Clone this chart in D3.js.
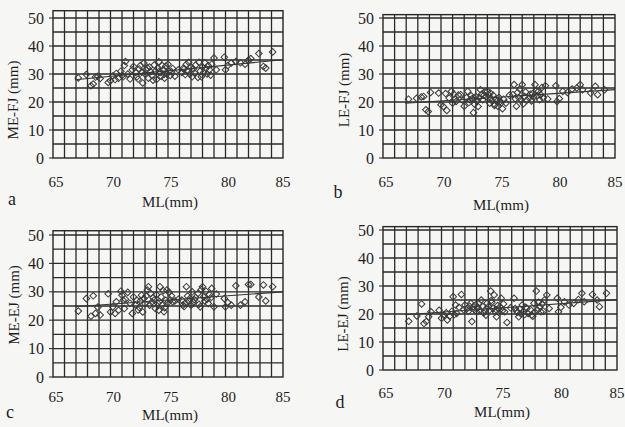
<!DOCTYPE html>
<html>
<head>
    <meta charset="utf-8">
    <script type="text/javascript" src="https://cdn.jsdelivr.net/npm/d3@7"></script>
    <title>ML scatter plots</title>
    <style>
        body { margin: 0; background: #f6f6f4; }
        svg text { font-family: "Liberation Serif", "Times New Roman", serif; fill: #1e1e1e; }
        .grid line { stroke: #2a2a2a; stroke-width: 1.3; }
        .frame { fill: none; stroke: #262626; stroke-width: 1.4; }
        .pt { fill: none; stroke: #3a3a3a; stroke-width: 1; }
        .fit { stroke: #333; stroke-width: 1.1; }
    </style>
</head>
<body>
<script type="text/javascript">
    // ML (mm), shared by the four panels
    var ml = [67.2, 67.9, 68.3, 68.5, 68.7, 68.9, 69.1, 69.8, 70.0, 70.2,
              70.4, 70.5, 70.7, 70.9, 71.0, 71.2, 71.3, 71.5, 71.7, 71.9,
              72.0, 72.2, 72.3, 72.5, 72.6, 72.8, 72.9, 73.0, 73.1, 73.3,
              73.4, 73.5, 73.6, 73.8, 73.9, 74.0, 74.1, 74.2, 74.3, 74.4,
              74.5, 74.6, 74.7, 74.8, 74.9, 75.0, 75.1, 75.2, 75.4, 75.6,
              75.9, 76.2, 76.3, 76.5, 76.6, 76.7, 76.8, 76.9, 77.0, 77.1,
              77.2, 77.4, 77.6, 77.7, 77.8, 77.9, 78.0, 78.1, 78.2, 78.3,
              78.4, 78.5, 78.6, 78.8, 79.0, 79.2, 79.9, 80.0, 80.2, 80.5,
              80.9, 81.3, 81.7, 82.0, 82.2, 82.9, 83.3, 83.5, 84.1,
              71.1, 72.4, 73.2, 73.7, 74.25, 74.65, 75.3, 76.4, 77.3, 78.7, 72.7];

    var meFJ = [28.6, 29.8, 25.8, 26.4, 28.9, 29.2, 28.4, 27.0, 27.6, 29.3,
                28.0, 30.2, 28.5, 31.0, 29.5, 33.0, 34.5, 30.0, 28.2, 31.5,
                32.7, 30.5, 29.0, 31.8, 33.0, 26.8, 33.9, 30.0, 31.5, 28.5,
                32.5, 30.8, 29.5, 33.2, 31.0, 28.0, 32.0, 34.4, 30.5, 29.2,
                33.0, 31.5, 28.5, 32.8, 30.0, 33.5, 31.0, 29.5, 32.0, 29.2,
                31.5, 30.5, 32.0, 29.8, 33.5, 31.0, 34.2, 30.0, 32.5, 29.0,
                31.8, 33.2, 28.8, 34.2, 31.0, 29.0, 32.5, 30.5, 34.0, 32.0,
                30.0, 33.0, 31.5, 33.5, 35.7, 31.5, 36.0, 31.5, 33.0, 33.9,
                34.5, 34.0, 33.5, 35.0, 35.5, 37.3, 32.7, 32.1, 37.9,
                29.0, 28.2, 32.2, 27.8, 31.0, 29.8, 30.8, 31.8, 30.4, 29.6, 30.6];

    var leFJ = [21.0, 21.3, 21.8, 22.0, 17.2, 16.6, 23.4, 23.2, 19.0, 18.4,
                23.0, 17.0, 21.4, 23.8, 19.6, 21.0, 20.2, 22.5, 22.6, 20.5,
                18.5, 21.6, 23.8, 20.8, 22.2, 16.2, 19.2, 22.0, 20.4, 21.5,
                24.4, 22.8, 20.8, 23.6, 21.9, 23.8, 22.6, 19.6, 21.4, 20.4,
                22.4, 18.8, 21.0, 20.2, 18.5, 21.6, 20.2, 19.8, 21.0, 19.6,
                22.4, 22.6, 26.2, 18.5, 23.4, 21.6, 24.6, 20.8, 26.2, 19.4,
                22.0, 20.6, 21.4, 22.8, 20.4, 23.0, 21.8, 26.2, 24.0, 22.2,
                23.8, 20.8, 22.6, 21.4, 25.8, 21.1, 25.8, 20.2, 21.2, 23.8,
                23.4, 24.6, 25.0, 26.2, 24.4, 23.2, 25.6, 22.6, 24.4,
                22.8, 19.8, 18.4, 22.4, 23.2, 19.0, 17.6, 21.2, 23.6, 25.2, 21.2];

    var meEJ = [23.2, 27.6, 21.4, 28.6, 22.4, 24.6, 21.8, 29.3, 22.9, 24.7,
                22.4, 26.5, 23.5, 30.2, 28.8, 24.1, 27.4, 29.8, 26.0, 22.4,
                28.2, 25.3, 27.0, 24.5, 26.8, 22.9, 27.6, 25.8, 28.5, 31.8,
                25.3, 29.4, 26.4, 27.1, 24.1, 29.0, 26.0, 23.5, 31.8, 28.2,
                25.3, 30.4, 24.4, 27.0, 30.6, 26.2, 29.8, 27.1, 26.5, 26.8,
                27.4, 27.1, 25.3, 26.0, 31.8, 28.5, 26.6, 27.6, 25.3, 30.0,
                26.2, 28.0, 29.4, 25.6, 24.7, 30.8, 31.8, 28.2, 26.8, 30.2,
                27.4, 25.9, 29.0, 31.2, 24.7, 29.2, 27.6, 24.7, 26.2, 25.3,
                32.1, 25.3, 26.5, 32.6, 32.6, 28.2, 32.4, 26.8, 31.8,
                27.0, 23.6, 30.6, 28.0, 26.6, 23.0, 28.6, 24.8, 27.2, 27.8, 28.8];

    var leEJ = [17.4, 19.3, 23.6, 16.6, 17.3, 19.0, 20.8, 21.3, 18.5, 19.6,
                20.4, 17.9, 19.2, 21.0, 26.2, 23.2, 20.2, 22.4, 27.0, 21.5,
                23.2, 22.0, 21.0, 23.8, 17.3, 21.6, 23.2, 20.8, 22.4, 21.2,
                25.0, 22.8, 20.4, 19.6, 23.8, 22.6, 21.4, 28.2, 24.2, 22.0,
                26.8, 20.8, 19.0, 23.0, 21.8, 22.6, 25.6, 21.2, 20.8, 17.0,
                22.2, 25.6, 22.0, 20.6, 19.0, 21.8, 20.0, 23.2, 21.0, 19.8,
                22.4, 20.2, 21.6, 19.6, 19.2, 23.8, 20.6, 28.2, 21.4, 24.2,
                22.6, 20.8, 23.6, 25.0, 26.8, 22.0, 25.6, 20.8, 22.4, 24.4,
                23.2, 23.8, 25.2, 27.4, 24.4, 27.0, 25.0, 22.6, 27.4,
                19.8, 22.8, 23.6, 21.2, 24.8, 21.6, 23.6, 21.2, 22.0, 21.0, 22.6];

    var xTicks = [65, 70, 75, 80, 85],
        yTicks = [0, 10, 20, 30, 40, 50],
        letters = ['a', 'b', 'c', 'd'],
        yTitles = ['ME-FJ (mm)', 'LE-FJ (mm)', 'ME-EJ (mm)', 'LE-EJ (mm)'],
        series = [meFJ, leFJ, meEJ, leEJ];

    // where each panel sits on the page (scanned, so not all the same)
    var panels = [
        { x0: 53,  x1: 283, y0: 158, y50: 18,  top: 52.6, tickDy: 29, titleDy: 49, letter: [12, 205],  yt: [13, 100] },
        { x0: 383, x1: 615, y0: 158, y50: 18,  top: 51.2, tickDy: 29, titleDy: 52, letter: [338, 198], yt: [344, 90] },
        { x0: 53,  x1: 283, y0: 377, y50: 235, top: 51.5, tickDy: 25, titleDy: 43, letter: [10, 418],  yt: [14, 305] },
        { x0: 383, x1: 617, y0: 370, y50: 230, top: 51.2, tickDy: 28, titleDy: 47, letter: [340, 408], yt: [343, 314] }
    ];

    var svg = d3.select("body").append("svg")
            .attr("width", 625)
            .attr("height", 427);

    svg.append("rect")
            .attr("width", 625)
            .attr("height", 427)
            .attr("fill", "#f6f6f4");

    var diamond = d3.symbol().type(d3.symbolSquare).size(22);

    panels.forEach(function (p, i) {
        var x = d3.scaleLinear().domain([65, 85]).range([p.x0, p.x1]),
            y = d3.scaleLinear().domain([0, 50]).range([p.y0, p.y50]),
            vals = series[i],
            g = svg.append("g");

        // grid: every 1 mm across, every 5 mm up
        var grid = g.append("g").attr("class", "grid");
        grid.selectAll("line.v")
                .data(d3.range(66, 85))
                .enter().append("line")
                .attr("x1", function (d) { return x(d); })
                .attr("x2", function (d) { return x(d); })
                .attr("y1", y(0))
                .attr("y2", y(p.top));
        grid.selectAll("line.h")
                .data(d3.range(5, 51, 5))
                .enter().append("line")
                .attr("x1", x(65))
                .attr("x2", x(85))
                .attr("y1", function (d) { return y(d); })
                .attr("y2", function (d) { return y(d); });

        g.append("rect")
                .attr("class", "frame")
                .attr("x", x(65))
                .attr("y", y(p.top))
                .attr("width", x(85) - x(65))
                .attr("height", y(0) - y(p.top));

        // little ticks left of the y axis
        g.selectAll("line.yt")
                .data(yTicks)
                .enter().append("line")
                .attr("class", "fit")
                .attr("x1", x(65) - 4)
                .attr("x2", x(65))
                .attr("y1", function (d) { return y(d); })
                .attr("y2", function (d) { return y(d); });

        g.selectAll("text.yl")
                .data(yTicks)
                .enter().append("text")
                .attr("x", x(65) - 9)
                .attr("y", function (d) { return y(d); })
                .attr("dy", ".35em")
                .attr("text-anchor", "end")
                .style("font-size", "16px")
                .text(function (d) { return d; });

        g.selectAll("text.xl")
                .data(xTicks)
                .enter().append("text")
                .attr("x", function (d) { return x(d) + (d === 85 ? 0 : 3); })
                .attr("y", p.y0 + p.tickDy)
                .attr("text-anchor", "middle")
                .style("font-size", "15px")
                .text(function (d) { return d; });

        g.append("text")
                .attr("x", (p.x0 + p.x1) / 2 + 2)
                .attr("y", p.y0 + p.titleDy)
                .attr("text-anchor", "middle")
                .style("font-size", "15px")
                .text("ML(mm)");

        g.append("text")
                .attr("transform", "translate(" + p.yt[0] + "," + p.yt[1] + ") rotate(-90)")
                .attr("dy", ".35em")
                .attr("text-anchor", "middle")
                .style("font-size", "15px")
                .text(yTitles[i]);

        g.append("text")
                .attr("x", p.letter[0])
                .attr("y", p.letter[1])
                .attr("text-anchor", "middle")
                .style("font-size", "18px")
                .text(letters[i]);

        // least squares line
        var mx = d3.mean(ml), my = d3.mean(vals),
            sxy = d3.sum(ml, function (d, k) { return (d - mx) * (vals[k] - my); }),
            sxx = d3.sum(ml, function (d) { return (d - mx) * (d - mx); }),
            b = sxy / sxx, a = my - b * mx,
            xs = [d3.min(ml) - 0.3, 85];

        g.append("line")
                .attr("class", "fit")
                .attr("x1", x(xs[0]))
                .attr("y1", y(a + b * xs[0]))
                .attr("x2", x(xs[1]))
                .attr("y2", y(a + b * xs[1]));

        g.selectAll("path.pt")
                .data(ml)
                .enter().append("path")
                .attr("class", "pt")
                .attr("d", diamond)
                .attr("transform", function (d, k) {
                    return "translate(" + x(d) + "," + y(vals[k]) + ") rotate(45)";
                });
    });
</script>
</body>
</html>
